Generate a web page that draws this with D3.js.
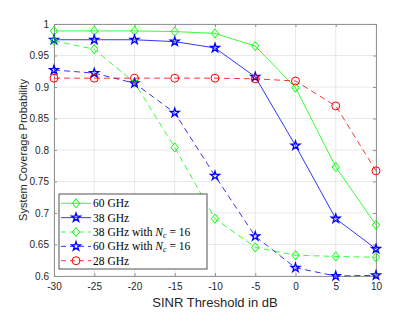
<!DOCTYPE html>
<html>
<head>
<meta charset="utf-8">
<script src="https://cdn.jsdelivr.net/npm/d3@7"></script>
<style>
body { margin: 0; background: #fff; }
svg { display: block; }
</style>
</head>
<body>
<svg id="chart"></svg>
<script>
var width = 415;
var height = 312;
var margin = { top: 24, right: 39, bottom: 36, left: 54 };

var thresholds = [-30, -25, -20, -15, -10, -5, 0, 5, 10];
var xTicks = [-30, -25, -20, -15, -10, -5, 0, 5, 10];
var yTicks = [0.6, 0.65, 0.7, 0.75, 0.8, 0.85, 0.9, 0.95, 1];

var ghz60 = [0.989, 0.989, 0.989, 0.988, 0.985, 0.965, 0.899, 0.773, 0.681];
var ghz38 = [0.975, 0.975, 0.975, 0.972, 0.962, 0.916, 0.807, 0.691, 0.643];
var ghz38Nc = [0.9735, 0.960, 0.907, 0.804, 0.691, 0.6455, 0.633, 0.631, 0.6297];
var ghz60Nc = [0.927, 0.922, 0.906, 0.859, 0.759, 0.663, 0.613, 0.600, 0.601];
var ghz28 = [0.914, 0.914, 0.914, 0.914, 0.914, 0.913, 0.9095, 0.870, 0.767];

var series = [
    { label: "60 GHz", nc: false, values: ghz60, color: "#00ff00", dash: null, marker: "diamond" },
    { label: "38 GHz", nc: false, values: ghz38, color: "#0000ff", dash: null, marker: "star" },
    { label: "38 GHz with ", nc: true, values: ghz38Nc, color: "#00ff00", dash: "6,4", marker: "diamond" },
    { label: "60 GHz with ", nc: true, values: ghz60Nc, color: "#0000ff", dash: "6,4", marker: "star" },
    { label: "28 GHz", nc: false, values: ghz28, color: "#ff0000", dash: "6,4", marker: "circle" }
];

var svg = d3.select("#chart").attr("width", width).attr("height", height);

var x = d3.scaleLinear().domain([-30, 10]).range([margin.left, width - margin.right]);
var y = d3.scaleLinear().domain([0.6, 1]).range([height - margin.bottom, margin.top]);

var axisColor = "#262626";
var font = "'Liberation Sans', Arial, sans-serif";

// grid
svg.append("g").selectAll("line").data(xTicks).enter().append("line")
    .attr("x1", function (d) { return x(d); }).attr("x2", function (d) { return x(d); })
    .attr("y1", y(0.6)).attr("y2", y(1))
    .attr("stroke", "#e3e3e3").attr("stroke-width", 0.8);
svg.append("g").selectAll("line").data(yTicks).enter().append("line")
    .attr("x1", x(-30)).attr("x2", x(10))
    .attr("y1", function (d) { return y(d); }).attr("y2", function (d) { return y(d); })
    .attr("stroke", "#e3e3e3").attr("stroke-width", 0.8);

// axes
var xAxis = svg.append("g")
    .attr("transform", "translate(0," + y(0.6) + ")")
    .call(d3.axisBottom(x).tickValues(xTicks).tickSizeInner(-3).tickSizeOuter(0).tickPadding(7)
        .tickFormat(function (d) { return d; }));
var xAxisTop = svg.append("g")
    .attr("transform", "translate(0," + y(1) + ")")
    .call(d3.axisTop(x).tickValues(xTicks).tickSizeInner(-3).tickSizeOuter(0).tickFormat(""));
var yAxis = svg.append("g")
    .attr("transform", "translate(" + x(-30) + ",0)")
    .call(d3.axisLeft(y).tickValues(yTicks).tickSizeInner(-3).tickSizeOuter(0).tickPadding(5)
        .tickFormat(function (d) { return d === 1 ? "1" : d3.format("")(+d.toFixed(2)); }));
var yAxisRight = svg.append("g")
    .attr("transform", "translate(" + x(10) + ",0)")
    .call(d3.axisRight(y).tickValues(yTicks).tickSizeInner(-3).tickSizeOuter(0).tickFormat(""));

[xAxis, xAxisTop, yAxis, yAxisRight].forEach(function (a) {
    a.selectAll("path").attr("stroke", "#8a8a8a").attr("stroke-width", 0.9);
    a.selectAll("line").attr("stroke", "#8a8a8a").attr("stroke-width", 0.9);
    a.selectAll("text").attr("fill", axisColor).style("font-family", font).style("font-size", "10px");
});

// lines
var line = d3.line()
    .x(function (d, i) { return x(thresholds[i]); })
    .y(function (d) { return y(d); });

function markerPath(type) {
    if (type === "diamond") return "M0,-4.6L3.6,0L0,4.6L-3.6,0Z";
    if (type === "star") return d3.symbol().type(d3.symbolStar).size(24)();
    return d3.symbol().type(d3.symbolCircle).size(50)();
}

series.forEach(function (s) {
    svg.append("path")
        .datum(s.values)
        .attr("d", line)
        .attr("fill", "none")
        .attr("stroke", s.color)
        .attr("stroke-width", 0.8)
        .attr("stroke-dasharray", s.dash);
    svg.append("g").selectAll("path")
        .data(s.values).enter().append("path")
        .attr("transform", function (d, i) { return "translate(" + x(thresholds[i]) + "," + y(d) + ")"; })
        .attr("d", markerPath(s.marker))
        .attr("fill", "none")
        .attr("stroke", s.color)
        .attr("stroke-width", s.marker === "star" ? 1.3 : 1);
});

// axis labels
svg.append("text")
    .attr("x", (x(-30) + x(10)) / 2)
    .attr("y", 307)
    .attr("text-anchor", "middle")
    .attr("fill", axisColor)
    .style("font-family", font)
    .style("font-size", "13px")
    .text("SINR Threshold in dB");

svg.append("text")
    .attr("transform", "translate(27," + (y(0.6) + y(1)) / 2 + ")rotate(-90)")
    .attr("text-anchor", "middle")
    .attr("fill", axisColor)
    .style("font-family", font)
    .style("font-size", "11px")
    .text("System Coverage Probability");

// legend
var legend = svg.append("g");
legend.append("rect")
    .attr("x", 59).attr("y", 194).attr("width", 148).attr("height", 75)
    .attr("fill", "#fff").attr("stroke", "#262626").attr("stroke-width", 0.8);

var serif = "'Liberation Serif', 'DejaVu Serif', serif";
series.forEach(function (s, i) {
    var ly = 203.3 + i * 14.35;
    legend.append("line")
        .attr("x1", 61).attr("x2", 91).attr("y1", ly).attr("y2", ly)
        .attr("stroke", s.color).attr("stroke-width", 0.8)
        .attr("stroke-dasharray", s.dash ? "5,4" : null);
    legend.append("path")
        .attr("transform", "translate(76," + ly + ")")
        .attr("d", markerPath(s.marker))
        .attr("fill", "none").attr("stroke", s.color)
        .attr("stroke-width", s.marker === "star" ? 1.3 : 1);
    var t = legend.append("text")
        .attr("x", 93).attr("y", ly + 4)
        .attr("fill", "#000")
        .style("font-family", serif)
        .style("font-size", "11.5px")
        .text(s.label);
    if (s.nc) {
        t.append("tspan").style("font-style", "italic").text("N");
        t.append("tspan").attr("dy", 2).style("font-size", "8px").style("font-style", "italic").text("c");
        t.append("tspan").attr("dy", -2).text(" = 16");
    }
});
</script>
</body>
</html>
